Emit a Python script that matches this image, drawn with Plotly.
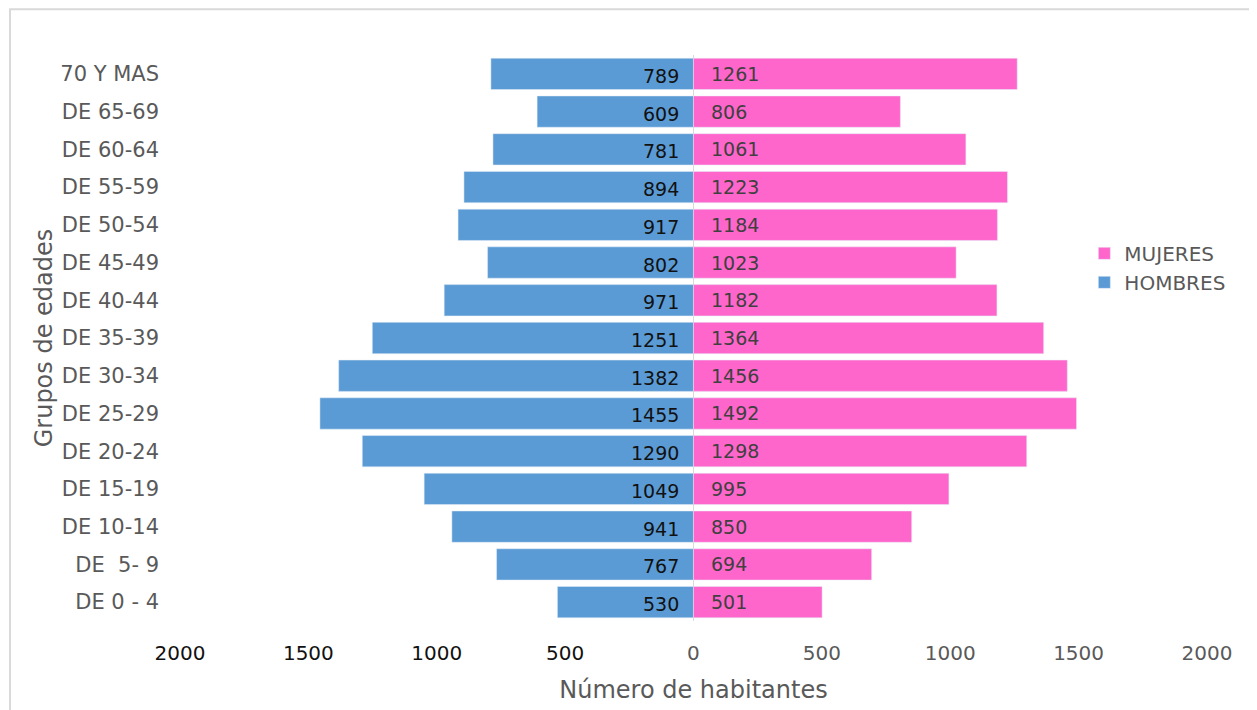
import plotly.graph_objects as go

# Age groups, youngest first (plotly puts the first category at the bottom)
grupos = ['DE 0 - 4', 'DE  5- 9', 'DE 10-14', 'DE 15-19', 'DE 20-24', 'DE 25-29',
          'DE 30-34', 'DE 35-39', 'DE 40-44', 'DE 45-49', 'DE 50-54', 'DE 55-59',
          'DE 60-64', 'DE 65-69', '70 Y MAS']
hombres = [530, 767, 941, 1049, 1290, 1455, 1382, 1251, 971, 802, 917, 894, 781, 609, 789]
mujeres = [501, 694, 850, 995, 1298, 1492, 1456, 1364, 1182, 1023, 1184, 1223, 1061, 806, 1261]

tick_vals = [-2000, -1500, -1000, -500, 0, 500, 1000, 1500, 2000]
tick_text = ['2000', '1500', '1000', '500', '0', '500', '1000', '1500', '2000']

FONT = 'DejaVu Sans'
GRAY = '#595959'

fig = go.Figure()

# Men on the left (negative values), women on the right
fig.add_trace(go.Bar(y=grupos, x=[-v for v in hombres], name='HOMBRES', orientation='h',
                     legendgroup='h', marker=dict(color='#5B9BD5'), hoverinfo='skip'))
fig.add_trace(go.Bar(y=grupos, x=mujeres, name='MUJERES', orientation='h',
                     legendgroup='m', marker=dict(color='#FF66CC'), hoverinfo='skip'))

# Value labels next to the centre line
for g, h, m in zip(grupos, hombres, mujeres):
    fig.add_annotation(x=0, y=g, text=str(h), showarrow=False, xanchor='right',
                       xshift=-12, yshift=-2, font=dict(family=FONT, size=19, color='#111111'))
    fig.add_annotation(x=0, y=g, text=str(m), showarrow=False, xanchor='left',
                       xshift=16, font=dict(family=FONT, size=19, color='#404040'))

# Left side tick labels are black, right side gray
ticks = [f"<span style='color:#111111'>{t}</span>" if v < 0 else t
         for v, t in zip(tick_vals, tick_text)]

fig.update_layout(
    barmode='relative', bargap=0.17,
    width=1257, height=710,
    margin=dict(l=172, r=0, t=47, b=97, autoexpand=False),
    plot_bgcolor='white', paper_bgcolor='white',
    font=dict(family=FONT, size=20, color=GRAY),
    legend=dict(x=0.8335, y=0.684, xanchor='left', yanchor='top', traceorder='reversed',
                font=dict(size=20, color=GRAY), tracegroupgap=34,
                bgcolor='rgba(0,0,0,0)'),
    xaxis=dict(domain=[0, 0.9465], range=[-2000, 2000], tickvals=tick_vals, ticktext=ticks,
               showgrid=False, zeroline=True, zerolinecolor='#D9D9D9', zerolinewidth=1,
               ticklabelstandoff=18, fixedrange=True,
               title=dict(text='Número de habitantes', font=dict(size=24, color=GRAY), standoff=17)),
    yaxis=dict(showgrid=False, ticklabelstandoff=20, fixedrange=True, tickfont=dict(size=21),
               title=dict(text='Grupos de edades', font=dict(size=24, color=GRAY), standoff=0)),
    shapes=[dict(type='rect', xref='paper', yref='paper',
                 x0=-0.1567, x1=1.01, y0=-0.2, y1=1.081,
                 line=dict(color='#D9D9D9', width=2), fillcolor='rgba(0,0,0,0)', layer='below')],
)

fig.write_html("out.html")
